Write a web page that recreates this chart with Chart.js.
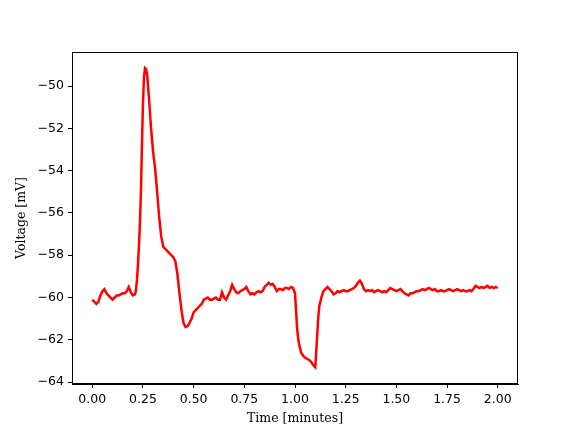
<!DOCTYPE html>
<html lang="en">

<head>
    <meta charset="UTF-8" />
    <title>Voltage trace</title>
    <script src="https://cdn.jsdelivr.net/npm/chart.js"></script>
    <style>
        html, body { margin: 0; padding: 0; background: #fff; }
        canvas { display: block; }
    </style>
</head>

<body>
    <canvas id="grafico" width="576" height="432"></canvas>

    <script>
        // tempo em minutos e tensao em mV
        const tempos = [
            0.00, 0.01, 0.02, 0.03, 0.04, 0.05, 0.06, 0.07, 0.08, 0.09,
            0.10, 0.11, 0.12, 0.13, 0.14, 0.15, 0.16, 0.17, 0.18, 0.19,
            0.20, 0.21, 0.215, 0.22, 0.225, 0.23, 0.235, 0.24, 0.245, 0.25,
            0.255, 0.26, 0.265, 0.27, 0.28, 0.29, 0.30, 0.31, 0.32, 0.33,
            0.34, 0.35, 0.36, 0.37, 0.38, 0.39, 0.40, 0.41, 0.42, 0.43,
            0.44, 0.45, 0.46, 0.47, 0.48, 0.49, 0.50, 0.51, 0.52, 0.53,
            0.54, 0.55, 0.56, 0.57, 0.58, 0.59, 0.60, 0.61, 0.62, 0.63,
            0.64, 0.65, 0.66, 0.67, 0.68, 0.69, 0.70, 0.71, 0.72, 0.73,
            0.74, 0.75, 0.76, 0.77, 0.78, 0.79, 0.80, 0.81, 0.82, 0.83,
            0.84, 0.85, 0.86, 0.87, 0.88, 0.89, 0.90, 0.91, 0.92, 0.93,
            0.94, 0.95, 0.96, 0.97, 0.98, 0.99, 1.00, 1.005, 1.01, 1.015,
            1.02, 1.03, 1.04, 1.05, 1.06, 1.07, 1.08, 1.09, 1.10, 1.105,
            1.11, 1.115, 1.12, 1.13, 1.14, 1.15, 1.16, 1.17, 1.18, 1.19,
            1.20, 1.21, 1.22, 1.23, 1.24, 1.25, 1.26, 1.27, 1.28, 1.29,
            1.30, 1.31, 1.32, 1.33, 1.34, 1.35, 1.36, 1.37, 1.38, 1.39,
            1.40, 1.41, 1.42, 1.43, 1.44, 1.45, 1.46, 1.47, 1.48, 1.49,
            1.50, 1.51, 1.52, 1.53, 1.54, 1.55, 1.56, 1.57, 1.58, 1.59,
            1.60, 1.61, 1.62, 1.63, 1.64, 1.65, 1.66, 1.67, 1.68, 1.69,
            1.70, 1.71, 1.72, 1.73, 1.74, 1.75, 1.76, 1.77, 1.78, 1.79,
            1.80, 1.81, 1.82, 1.83, 1.84, 1.85, 1.86, 1.87, 1.88, 1.89,
            1.90, 1.91, 1.92, 1.93, 1.94, 1.95, 1.96, 1.97, 1.98, 1.99,
            2.00
        ];

        const tensao = [
            -60.1, -60.2, -60.3, -60.2, -59.9, -59.7, -59.6, -59.8, -59.9, -60.0,
            -60.1, -60.0, -59.9, -59.9, -59.85, -59.8, -59.8, -59.7, -59.5, -59.75,
            -59.9, -59.85, -59.7, -59.2, -58.5, -57.6, -56.5, -55.0, -52.8, -50.8,
            -49.6, -49.15, -49.2, -49.4, -50.6, -52.0, -53.1, -53.9, -55.0, -56.2,
            -57.1, -57.6, -57.7, -57.8, -57.9, -58.0, -58.1, -58.3, -58.9, -59.8,
            -60.6, -61.2, -61.4, -61.35, -61.2, -61.0, -60.7, -60.6, -60.5, -60.4,
            -60.3, -60.1, -60.05, -60.0, -60.1, -60.1, -60.05, -60.0, -60.1, -60.1,
            -59.75, -60.0, -60.1, -59.9, -59.7, -59.4, -59.6, -59.75, -59.8, -59.7,
            -59.65, -59.6, -59.5, -59.7, -59.85, -59.8, -59.85, -59.75, -59.7, -59.75,
            -59.7, -59.5, -59.4, -59.3, -59.4, -59.35, -59.5, -59.7, -59.6, -59.6,
            -59.65, -59.55, -59.55, -59.6, -59.5, -59.55, -59.8, -60.6, -61.4, -61.9,
            -62.2, -62.6, -62.75, -62.85, -62.9, -62.95, -63.05, -63.2, -63.3, -62.5,
            -61.7, -60.9, -60.4, -60.0, -59.7, -59.6, -59.5, -59.6, -59.7, -59.85,
            -59.8, -59.7, -59.75, -59.7, -59.65, -59.7, -59.7, -59.65, -59.6, -59.55,
            -59.45, -59.3, -59.2, -59.35, -59.6, -59.7, -59.65, -59.7, -59.65, -59.75,
            -59.7, -59.65, -59.7, -59.75, -59.7, -59.75, -59.65, -59.55, -59.6, -59.65,
            -59.7, -59.65, -59.6, -59.7, -59.8, -59.85, -59.9, -59.8, -59.8, -59.75,
            -59.7, -59.7, -59.65, -59.6, -59.65, -59.6, -59.55, -59.6, -59.65, -59.6,
            -59.7, -59.7, -59.65, -59.7, -59.7, -59.65, -59.6, -59.65, -59.7, -59.65,
            -59.6, -59.65, -59.7, -59.65, -59.7, -59.7, -59.65, -59.7, -59.6, -59.45,
            -59.5, -59.55, -59.5, -59.55, -59.5, -59.45, -59.55, -59.5, -59.55, -59.5,
            -59.55
        ];

        const ticksX = [0.00, 0.25, 0.50, 0.75, 1.00, 1.25, 1.50, 1.75, 2.00];
        const ticksY = [-64, -62, -60, -58, -56, -54, -52, -50];

        const pontos = tempos.map((t, i) => ({ x: t, y: tensao[i] }));

        // desenha a moldura completa em volta da area do grafico
        const moldura = {
            id: 'moldura',
            afterDraw(chart) {
                const { ctx, chartArea: a } = chart;
                ctx.save();
                ctx.strokeStyle = '#000';
                ctx.lineWidth = 1;
                ctx.strokeRect(a.left + 0.5, a.top + 0.5, a.right - a.left - 1, a.bottom - a.top - 1);
                ctx.restore();
            }
        };

        const fonteTicks = { family: 'DejaVu Sans', size: 12.5 };
        const fonteTitulo = { family: 'DejaVu Serif', size: 12.5 };

        new Chart(document.getElementById('grafico'), {
            type: 'line',
            data: {
                datasets: [{
                    data: pontos,
                    borderColor: '#ff0000',
                    borderWidth: 2.5,
                    pointRadius: 0,
                    tension: 0,
                    fill: false
                }]
            },
            options: {
                responsive: false,
                animation: false,
                layout: { padding: { left: 0, right: 58, top: 52, bottom: 0 } },
                plugins: {
                    legend: { display: false },
                    tooltip: { enabled: false }
                },
                scales: {
                    x: {
                        type: 'linear',
                        min: -0.1,
                        max: 2.1,
                        afterFit(s) { s.height = 48; },
                        afterBuildTicks(s) { s.ticks = ticksX.map(v => ({ value: v })); },
                        grid: { display: true, drawOnChartArea: false, drawTicks: true, tickLength: 4, color: '#000' },
                        border: { display: true, color: '#000' },
                        ticks: {
                            color: '#000',
                            font: fonteTicks,
                            padding: 4,
                            maxRotation: 0,
                            callback: v => v.toFixed(2)
                        },
                        title: {
                            display: true,
                            text: 'Time [minutes]',
                            color: '#000',
                            font: fonteTitulo,
                            padding: { top: 0, bottom: 6 }
                        }
                    },
                    y: {
                        type: 'linear',
                        min: -64.09,
                        max: -48.39,
                        afterFit(s) { s.width = 72; },
                        afterBuildTicks(s) { s.ticks = ticksY.map(v => ({ value: v })); },
                        grid: { display: true, drawOnChartArea: false, drawTicks: true, tickLength: 4, color: '#000' },
                        border: { display: true, color: '#000' },
                        ticks: {
                            color: '#000',
                            font: fonteTicks,
                            padding: 4,
                            callback: v => (v < 0 ? '\u2212' : '') + Math.abs(v)
                        },
                        title: {
                            display: true,
                            text: 'Voltage [mV]',
                            color: '#000',
                            font: fonteTitulo,
                            padding: { top: 14, bottom: 0 }
                        }
                    }
                }
            },
            plugins: [moldura]
        });
    </script>
</body>
</html>
